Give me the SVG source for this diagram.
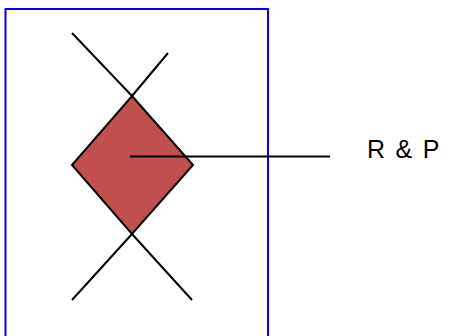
<svg xmlns="http://www.w3.org/2000/svg" width="452" height="336" viewBox="0 0 452 336">
<style>
.ln{stroke:#000;stroke-width:2;fill:none}
.lbl{font-family:"Liberation Sans",Arial,sans-serif;font-size:25px;letter-spacing:1.8px;fill:#000}
</style>
<rect x="0" y="0" width="452" height="336" fill="#fff"/>
<g id="frame"><rect x="5.5" y="9" width="262.5" height="340" fill="none" stroke="#0000ff" stroke-width="2"/></g>
<g id="connectors">
<line class="ln" x1="72" y1="33" x2="132" y2="96"/>
<line class="ln" x1="168" y1="53" x2="132" y2="96"/>
<line class="ln" x1="132" y1="234" x2="72" y2="300"/>
<line class="ln" x1="132" y1="234" x2="192" y2="300"/>
</g>
<g id="diamond"><polygon points="132,96 193,165 132,234 72,165" fill="#c0504d" stroke="#000" stroke-width="2"/></g>
<g id="leader"><line class="ln" x1="130" y1="156.5" x2="330" y2="156.5"/></g>
<g id="label"><text class="lbl" x="367" y="157.5">R &amp; P</text></g>
</svg>
